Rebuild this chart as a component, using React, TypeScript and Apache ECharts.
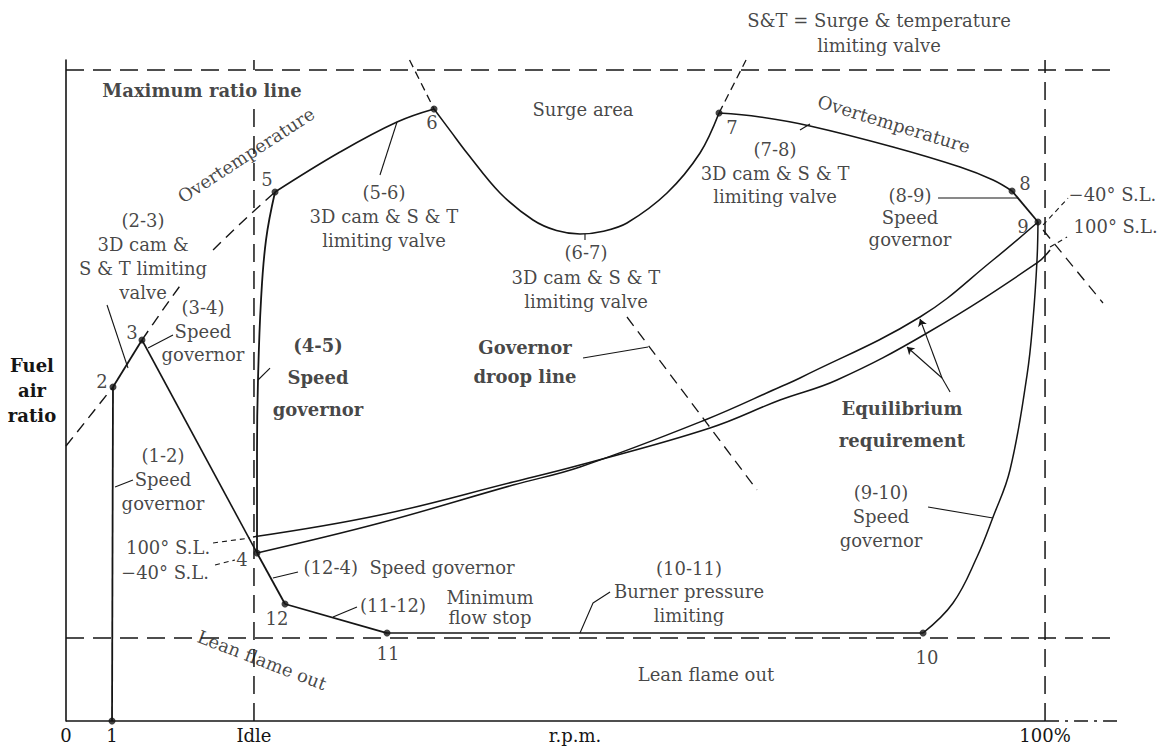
import React, { useEffect, useRef } from 'react';
import * as echarts from 'echarts';

const FONT = '"DejaVu Serif", "Liberation Serif", serif';
const INK = '#151515';
const FS = 18;

// x: per cent of full r.p.m. ; y: relative fuel-air ratio (max ratio line ~98.5)
const X_MAX = 107.35;
const Y_MAX = 100;

const xTickValues = [0, 4.7, 19.2, 51.99, 100];
const xTickLabels = ['0', '1', 'Idle', 'r.p.m.', '100%'];

// ---- operating line segments (state points 1..12) ----
const seg12 = [[4.7, 0], [4.8, 50.53]];
const seg23 = [[4.8, 50.53], [7.76, 57.64]];
const seg34 = [[7.76, 57.64], [19.51, 25.42]];
const seg45 = [[19.51, 25.42], [19.51, 41.0], [19.61, 51.6], [19.92, 63.7], [20.43, 72.8], [21.35, 80.03]];
const seg56 = [[21.35, 80.03], [27.99, 86.08], [33.81, 90.62], [37.59, 92.59]];
const seg67 = [[37.59, 92.59], [39.3, 89.2], [40.96, 85.93], [44.33, 79.88], [47.7, 75.79], [50.1, 74.2], [52.5, 73.68], [54.9, 74.1], [57.3, 75.34], [61.39, 79.88], [64.76, 85.93], [66.7, 91.98]];
const seg78 = [[66.7, 91.98], [70.89, 91.38], [75.99, 90.02], [84.47, 86.84], [91.32, 83.81], [94.69, 81.85], [96.63, 80.18]];
const seg89 = [[96.63, 80.18], [99.28, 75.49]];
const seg910 = [[99.28, 75.49], [99.18, 69.74], [98.77, 60.67], [98.16, 52.34], [96.42, 37.97], [94.69, 30.86], [93.05, 24.81], [90.6, 17.85], [87.54, 13.31]];
const seg1011 = [[87.54, 13.31], [32.79, 13.31]];
const seg1112 = [[32.79, 13.31], [22.37, 17.7]];
const seg124 = [[22.37, 17.7], [19.51, 25.42]];

const statePoints = [
  [4.7, 0], [4.8, 50.53], [7.76, 57.64], [19.51, 25.42], [21.35, 80.03], [37.59, 92.59],
  [66.7, 91.98], [96.63, 80.18], [99.28, 75.49], [87.54, 13.31], [32.79, 13.31], [22.37, 17.7],
];

// ---- equilibrium requirement curves ----
const eq100SL = [[19.1, 27.84], [32.07, 31.16], [45.66, 36.16], [52.5, 38.73], [65.78, 44.33], [72.93, 48.56], [78.75, 51.59], [87.95, 58.7], [99.18, 69.29], [100.51, 71.26]];
const eqMinus40SL = [[19.51, 25.42], [32.07, 29.95], [45.66, 35.7], [52.5, 38.43], [65.27, 45.54], [72.93, 50.53], [74.97, 51.89], [87.23, 61.12], [94.69, 69.74], [99.28, 75.49]];

// ---- dashed limit / guide lines ----
const overtempDashA = [[0, 41.6], [4.8, 50.53]];
const overtempDashB = [[7.76, 57.64], [9.81, 62.03], [11.85, 66.26]];
const overtempDashC = [[15.02, 71.26], [17.77, 75.19], [21.35, 80.03]];
const surgeLeft = [[35.09, 100], [37.59, 92.59]];
const surgeRight = [[66.7, 91.98], [69.46, 100]];
const droopAt9 = [[99.8, 74.28], [105.92, 63.24]];
const droopMid = [[57.3, 61.12], [70.58, 34.95]];
const maxRatioLine = [[0, 98.49], [X_MAX, 98.49]];
const leanFlameLine = [[0, 12.56], [X_MAX, 12.56]];
const idleLine = [[19.2, 0], [19.2, 93.95]];
const idleTick = [[19.2, 98.49], [19.2, 100]];
const fullSpeedLine = [[100, 0], [100, 100]];
const xAxisSolid = [[0, 0], [100, 0]];
const xAxisDash = [[100, 0], [X_MAX, 0]];

// ---- leader lines ----
const leaders = [
  [[32.07, 82.6], [33.81, 90.62]],
  [[74.97, 89.41], [75.99, 90.32]],
  [[89.07, 79.12], [97.24, 79.12]],
  [[10.93, 58.4], [8.38, 56.43]],
  [[19.61, 51.59], [20.84, 53.4]],
  [[5.01, 35.4], [6.84, 36.46]],
  [[21.14, 21.63], [23.7, 22.54]],
  [[27.27, 15.73], [29.72, 17.25]],
  [[52.5, 13.31], [53.83, 17.85], [55.57, 19.52]],
  [[88.05, 32.37], [94.69, 30.71]],
  [[53.01, 73.68], [53.01, 72.77]],
  [[52.81, 54.92], [59.45, 56.58]],
  [[4.19, 62.93], [6.33, 53.4]],
  [[90.3, 49.77], [89.48, 51.89]],
];
const dashedLeaders = [
  [[15.02, 26.93], [18.79, 27.69]],
  [[15.22, 23.6], [17.26, 24.36]],
  [[99.8, 75.04], [102.35, 79.12]],
  [[100.51, 71.71], [102.25, 73.22]],
];
const arrowLeaders = [
  [[89.48, 51.89], [87.23, 60.82]],
  [[89.48, 51.89], [85.9, 56.58]],
];

// ---- text annotations (data coordinates) ----
type Ann = { t: string; x: number; y: number; rot?: number; bold?: boolean; lh?: number; align?: string };
const annotations: Ann[] = [
  { t: 'S&T = Surge & temperature\nlimiting valve', x: 83.04, y: 104.16, lh: 25 },
  { t: 'Maximum ratio line', x: 13.89, y: 95.46, bold: true },
  { t: 'Overtemperature', x: 18.39, y: 85.63, rot: 33 },
  { t: '5', x: 20.53, y: 81.85 },
  { t: '(5-6)\n3D cam & S & T\nlimiting valve', x: 32.48, y: 76.25, lh: 24 },
  { t: '6', x: 37.39, y: 90.47 },
  { t: 'Surge area', x: 52.81, y: 92.44 },
  { t: '7', x: 68.03, y: 89.86 },
  { t: '(7-8)\n3D cam & S & T\nlimiting valve', x: 72.42, y: 82.9, lh: 23.5 },
  { t: 'Overtemperature', x: 84.58, y: 90.32, rot: -17 },
  { t: '8', x: 97.96, y: 81.39 },
  { t: '9', x: 97.75, y: 74.74 },
  { t: '(8-9)\nSpeed\ngovernor', x: 86.21, y: 76.17, lh: 22 },
  { t: '−40° S.L.', x: 102.35, y: 79.6, align: 'left' },
  { t: '100° S.L.', x: 102.86, y: 74.74, align: 'left' },
  { t: '(2-3)\n3D cam &\nS & T limiting\nvalve', x: 7.87, y: 70.27, lh: 24 },
  { t: '(3-4)\nSpeed\ngovernor', x: 13.99, y: 58.93, lh: 23.5 },
  { t: '3', x: 6.74, y: 58.7 },
  { t: '2', x: 3.68, y: 51.29 },
  { t: '(4-5)\nSpeed\ngovernor', x: 25.74, y: 52.04, lh: 32, bold: true },
  { t: '(1-2)\nSpeed\ngovernor', x: 9.91, y: 36.61, lh: 24 },
  { t: '100° S.L.', x: 10.42, y: 26.32 },
  { t: '−40° S.L.', x: 10.11, y: 22.54 },
  { t: '4', x: 17.98, y: 24.36 },
  { t: '(12-4)  Speed governor', x: 24.21, y: 23.15, align: 'left' },
  { t: '12', x: 21.55, y: 15.58 },
  { t: '(11-12)', x: 33.4, y: 17.4 },
  { t: 'Minimum\nflow stop', x: 43.31, y: 17.1, lh: 20 },
  { t: '11', x: 32.89, y: 10.14 },
  { t: '(10-11)\nBurner pressure\nlimiting', x: 63.64, y: 19.59, lh: 23.5 },
  { t: '10', x: 87.95, y: 9.68 },
  { t: 'Lean flame out', x: 20.02, y: 9.23, rot: -21 },
  { t: 'Lean flame out', x: 65.37, y: 6.96 },
  { t: '(6-7)\n3D cam & S & T\nlimiting valve', x: 53.11, y: 67.17, lh: 24.5 },
  { t: 'Governor\ndroop line', x: 46.88, y: 54.24, lh: 29, bold: true },
  { t: 'Equilibrium\nrequirement', x: 85.39, y: 44.93, lh: 32, bold: true },
  { t: '(9-10)\nSpeed\ngovernor', x: 83.25, y: 31.01, lh: 24 },
];

function line(data: number[][], o: { w?: number; dash?: any; smooth?: number | boolean; z?: number } = {}) {
  return {
    type: 'line',
    data,
    symbol: 'none',
    showSymbol: false,
    silent: true,
    clip: false,
    smooth: o.smooth ?? false,
    z: o.z ?? 2,
    lineStyle: { color: INK, width: o.w ?? 1.7, type: o.dash ?? 'solid' },
    emphasis: { disabled: true },
  };
}

export default function App() {
  const ref = useRef<HTMLDivElement>(null);
  useEffect(() => {
    document.body.style.margin = '0';
    document.body.style.background = '#fff';
    if (!ref.current) return;
    const chart = echarts.init(ref.current, undefined, { renderer: 'svg' });
    const LONG = [18, 9];
    const SHORT = [11, 7];
    const series: any[] = [
      line(xAxisSolid, { w: 1.6 }),
      line(xAxisDash, { w: 1.4, dash: [14, 6, 3, 6] }),
      line(maxRatioLine, { w: 1.5, dash: LONG }),
      line(leanFlameLine, { w: 1.5, dash: LONG }),
      line(idleLine, { w: 1.5, dash: LONG }),
      line(idleTick, { w: 1.5 }),
      line(fullSpeedLine, { w: 1.5, dash: LONG }),
      line(overtempDashA, { w: 1.4, dash: SHORT }),
      line(overtempDashB, { w: 1.4, dash: SHORT, smooth: 0.3 }),
      line(overtempDashC, { w: 1.4, dash: SHORT, smooth: 0.3 }),
      line(surgeLeft, { w: 1.3, dash: [8, 5] }),
      line(surgeRight, { w: 1.3, dash: [8, 5] }),
      line(droopAt9, { w: 1.3, dash: SHORT }),
      line(droopMid, { w: 1.3, dash: SHORT }),
      line(seg12, { w: 1.8 }),
      line(seg23, { w: 1.8 }),
      line(seg34, { w: 1.6 }),
      line(seg45, { w: 1.8, smooth: 0.4 }),
      line(seg56, { w: 1.6, smooth: 0.4 }),
      line(seg67, { w: 1.6, smooth: 0.35 }),
      line(seg78, { w: 1.6, smooth: 0.4 }),
      line(seg89, { w: 1.8 }),
      line(seg910, { w: 1.5, smooth: 0.4 }),
      line(seg1011, { w: 1.6 }),
      line(seg1112, { w: 1.8 }),
      line(seg124, { w: 1.8 }),
      line(eq100SL, { w: 1.5, smooth: 0.4 }),
      line(eqMinus40SL, { w: 1.5, smooth: 0.4 }),
      ...leaders.map((d) => line(d, { w: 1.1 })),
      ...dashedLeaders.map((d) => line(d, { w: 1.1, dash: [5, 4] })),
      {
        type: 'lines',
        coordinateSystem: 'cartesian2d',
        silent: true,
        symbol: ['none', 'arrow'],
        symbolSize: 7,
        lineStyle: { color: INK, width: 1.1, opacity: 1 },
        data: arrowLeaders.map((c) => ({ coords: c })),
      },
      {
        type: 'scatter',
        silent: true,
        clip: false,
        z: 5,
        symbol: 'circle',
        symbolSize: 7,
        itemStyle: { color: INK },
        data: statePoints,
      },
      {
        type: 'scatter',
        silent: true,
        clip: false,
        z: 6,
        symbolSize: 1,
        itemStyle: { color: 'rgba(0,0,0,0)' },
        data: annotations.map((a) => ({
          value: [a.x, a.y],
          label: {
            show: true,
            formatter: a.t,
            position: a.align === 'left' ? 'right' : 'inside',
            distance: 0,
            rotate: a.rot ?? 0,
            fontSize: FS,
            fontFamily: FONT,
            fontWeight: a.bold ? 'bold' : 'normal',
            color: INK,
            lineHeight: a.lh ?? 23,
            align: a.align === 'left' ? 'left' : 'center',
            verticalAlign: 'middle',
          },
        })),
      },
    ];

    chart.setOption({
      animation: false,
      backgroundColor: '#ffffff',
      tooltip: { show: false },
      grid: { left: 66, right: 52, top: 60, bottom: 32, containLabel: false },
      xAxis: {
        type: 'value',
        min: 0,
        max: X_MAX,
        splitLine: { show: false },
        axisLine: { show: false },
        axisTick: { show: false },
        axisLabel: {
          customValues: xTickValues,
          margin: 5,
          fontSize: FS,
          fontFamily: FONT,
          color: INK,
          formatter: (v: number) => {
            let best = 0;
            xTickValues.forEach((t, i) => {
              if (Math.abs(t - v) < Math.abs(xTickValues[best] - v)) best = i;
            });
            return xTickLabels[best];
          },
        },
      },
      yAxis: {
        type: 'value',
        min: 0,
        max: Y_MAX,
        name: 'Fuel\nair\nratio',
        nameLocation: 'middle',
        nameRotate: 0,
        nameGap: 34,
        nameTextStyle: {
          align: 'center',
          verticalAlign: 'middle',
          fontWeight: 'bold',
          fontSize: FS,
          fontFamily: FONT,
          color: INK,
          lineHeight: 25,
        },
        splitLine: { show: false },
        axisLine: { show: true, lineStyle: { color: INK, width: 1.6 } },
        axisTick: { show: false },
        axisLabel: { show: false },
      },
      series,
    });
    return () => chart.dispose();
  }, []);
  return <div ref={ref} style={{ width: 1169, height: 753, background: '#fff' }} />;
}
